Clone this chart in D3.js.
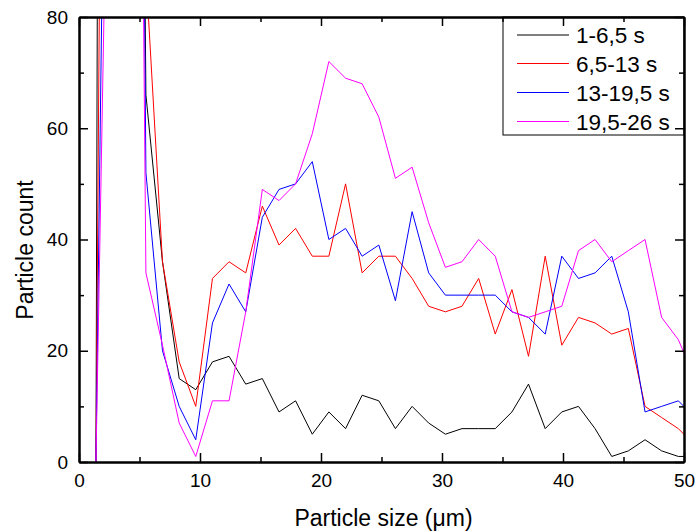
<!DOCTYPE html>
<html>
<head>
<meta charset="utf-8">
<script src="https://cdn.jsdelivr.net/npm/d3@7"></script>
<style>
  html, body { margin: 0; padding: 0; background: #fff; }
  svg { display: block; font-family: "Liberation Sans", Arial, Helvetica, sans-serif; }
</style>
</head>
<body>
<svg id="chart" width="697" height="532"></svg>
<script>
// Particle size bins (µm)
const sizes = [1.4, 2.78, 4.15, 5.53, 6.9, 8.28, 9.65, 11.03, 12.4, 13.78, 15.15, 16.53,
  17.9, 19.28, 20.65, 22.03, 23.4, 24.78, 26.15, 27.53, 28.9, 30.28, 31.65, 33.03, 34.4,
  35.78, 37.15, 38.53, 39.9, 41.28, 42.65, 44.03, 45.4, 46.78, 48.15, 49.53, 50.9];

// Particle counts per time window
const counts1 = [0, 1000, 400, 66, 36, 15, 13, 18, 19, 14, 15, 9, 11, 5, 9, 6, 12, 11, 6, 10,
  7, 5, 6, 6, 6, 9, 14, 6, 9, 10, 6, 1, 2, 4, 2, 1, 1];
const counts2 = [0, 400, 300, 88, 36, 18, 10, 33, 36, 34, 46, 39, 42, 37, 37, 50, 34, 37, 37, 33,
  28, 27, 28, 33, 23, 31, 19, 37, 21, 26, 25, 23, 24, 10, 8, 6, 3];
const counts3 = [0, 234, 409, 52, 20, 10, 4, 25, 32, 27, 44, 49, 50, 54, 40, 42, 37, 39, 29, 45,
  34, 30, 30, 30, 30, 27, 26, 23, 37, 33, 34, 37, 27, 9, 10, 11, 8];
const counts4 = [0, 167, 366, 34, 21, 7, 1, 11, 11, 27, 49, 47, 50, 59, 72, 69, 68, 62, 51, 53,
  43, 35, 36, 40, 37, 27, 26, 27, 28, 38, 40, 36, 38, 40, 26, 22, 15];

const seriesNames = ["1-6,5 s", "6,5-13 s", "13-19,5 s", "19,5-26 s"];
const seriesColors = ["#000000", "#ff0000", "#0000ff", "#ff00ff"];

const xMajor = [0, 10, 20, 30, 40, 50];
const xMinor = [5, 15, 25, 35, 45];
const yMajor = [0, 20, 40, 60, 80];
const yMinor = [10, 30, 50, 70];

const allCounts = [counts1, counts2, counts3, counts4];

const svg = d3.select("#chart");
const pLeft = 79, pRight = 684, pTop = 17, pBottom = 462;

const x = d3.scaleLinear().domain([0, 50]).range([pLeft, pRight]);
const y = d3.scaleLinear().domain([0, 80]).range([pBottom, pTop]);

svg.append("defs").append("clipPath").attr("id", "plotClip")
  .append("rect")
  .attr("x", pLeft).attr("y", pTop)
  .attr("width", pRight - pLeft).attr("height", pBottom - pTop);

// Data lines
const line = d3.line()
  .x((d, i) => x(sizes[i]))
  .y(d => y(d));

const plot = svg.append("g").attr("clip-path", "url(#plotClip)");
allCounts.forEach((vals, s) => {
  plot.append("path")
    .datum(vals)
    .attr("fill", "none")
    .attr("stroke", seriesColors[s])
    .attr("stroke-width", 1)
    .attr("stroke-linejoin", "miter")
    .attr("d", line);
});

// Legend
const legend = svg.append("g");
legend.append("rect")
  .attr("x", 503).attr("y", pTop)
  .attr("width", pRight - 503).attr("height", 118)
  .attr("fill", "#fff")
  .attr("stroke", "#000")
  .attr("stroke-width", 1);
const rowY = [35, 63.5, 92.5, 121.5];
seriesNames.forEach((name, i) => {
  legend.append("line")
    .attr("x1", 517).attr("x2", 569)
    .attr("y1", rowY[i]).attr("y2", rowY[i])
    .attr("stroke", seriesColors[i])
    .attr("stroke-width", 1);
  legend.append("text")
    .attr("x", 576).attr("y", rowY[i])
    .attr("dy", "0.36em")
    .attr("font-size", 22.5)
    .attr("fill", "#000")
    .text(name);
});

// Axes: ticks point inward on all four sides
function styleAxis(g) {
  g.selectAll(".domain").attr("stroke-width", 2);
  g.selectAll(".tick line").attr("stroke-width", 1.5);
  g.selectAll("text").attr("font-size", 19).attr("fill", "#000")
    .attr("font-family", "Liberation Sans, Arial, sans-serif");
}

svg.append("g").attr("transform", `translate(0,${pBottom})`)
  .call(d3.axisBottom(x).tickValues(xMajor).tickSize(-9).tickSizeOuter(0).tickPadding(12).tickFormat(d3.format("d")))
  .call(styleAxis);
svg.append("g").attr("transform", `translate(0,${pBottom})`)
  .call(d3.axisBottom(x).tickValues(xMinor).tickSize(-5).tickSizeOuter(0).tickFormat(""))
  .call(styleAxis);

svg.append("g").attr("transform", `translate(0,${pTop})`)
  .call(d3.axisTop(x).tickValues(xMajor).tickSize(-9).tickSizeOuter(0).tickFormat(""))
  .call(styleAxis);
svg.append("g").attr("transform", `translate(0,${pTop})`)
  .call(d3.axisTop(x).tickValues(xMinor).tickSize(-5).tickSizeOuter(0).tickFormat(""))
  .call(styleAxis);

svg.append("g").attr("transform", `translate(${pLeft},0)`)
  .call(d3.axisLeft(y).tickValues(yMajor).tickSize(-9).tickSizeOuter(0).tickPadding(11).tickFormat(d3.format("d")))
  .call(styleAxis);
svg.append("g").attr("transform", `translate(${pLeft},0)`)
  .call(d3.axisLeft(y).tickValues(yMinor).tickSize(-5).tickSizeOuter(0).tickFormat(""))
  .call(styleAxis);

svg.append("g").attr("transform", `translate(${pRight},0)`)
  .call(d3.axisRight(y).tickValues(yMajor).tickSize(-9).tickSizeOuter(0).tickFormat(""))
  .call(styleAxis);
svg.append("g").attr("transform", `translate(${pRight},0)`)
  .call(d3.axisRight(y).tickValues(yMinor).tickSize(-5).tickSizeOuter(0).tickFormat(""))
  .call(styleAxis);

// Axis titles
svg.append("text")
  .attr("x", (pLeft + pRight) / 2 + 2).attr("y", 526)
  .attr("text-anchor", "middle")
  .attr("font-size", 23)
  .attr("fill", "#000")
  .text("Particle size (μm)");

svg.append("text")
  .attr("transform", "translate(33,250) rotate(-90)")
  .attr("text-anchor", "middle")
  .attr("font-size", 23)
  .attr("fill", "#000")
  .text("Particle count");
</script>
</body>
</html>
